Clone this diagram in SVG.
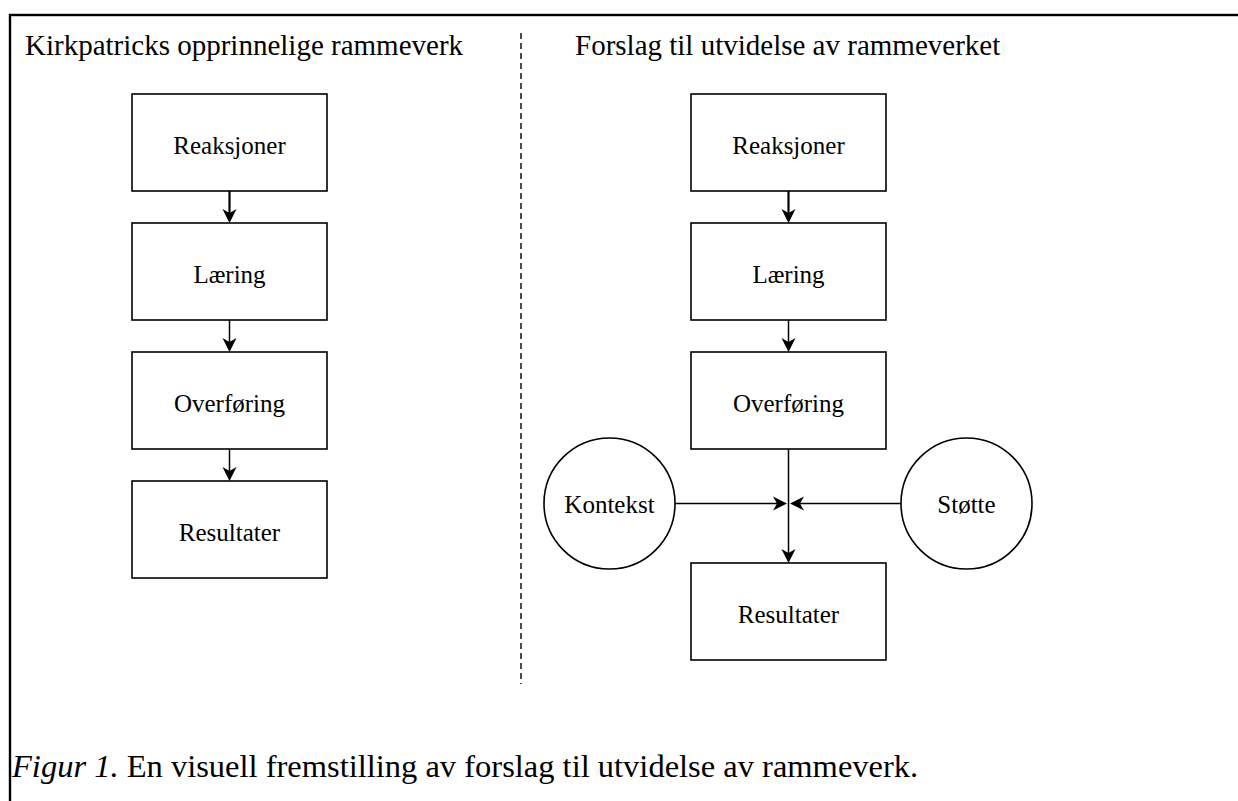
<svg xmlns="http://www.w3.org/2000/svg" width="1238" height="801" viewBox="0 0 1238 801">
<style>
text { font-family: "Liberation Serif", "Times New Roman", serif; fill: #000; }
.hdr { font-size: 29px; }
.lbl { font-size: 25px; text-anchor: middle; }
.cap { font-size: 32.5px; }
.box { fill: #fff; stroke: #000; stroke-width: 1.6; }
.circ { fill: #fff; stroke: #000; stroke-width: 1.6; }
.con { fill: none; stroke: #000; stroke-width: 1.5; }
.bold { stroke-width: 2.2; }
</style>
<defs>
<marker id="ah" markerUnits="userSpaceOnUse" markerWidth="20" markerHeight="20" refX="0" refY="0" viewBox="-6 -10 20 20" orient="auto" overflow="visible">
<path d="M10,0 L-4,-7 L0,0 L-4,7 Z" fill="#000"/>
</marker>
</defs>
<rect id="frame" x="10" y="15" width="1300" height="900" fill="none" stroke="#000" stroke-width="2.4"/>
<line id="divider" x1="521" y1="33" x2="521" y2="684" stroke="#000" stroke-width="1.4" stroke-dasharray="6,4"/>
<text id="hdr-left" class="hdr" x="25" y="55">Kirkpatricks opprinnelige rammeverk</text>
<text id="hdr-right" class="hdr" x="575" y="55">Forslag til utvidelse av rammeverket</text>

<g id="connectors">
<line class="con bold" x1="229.5" y1="191" x2="229.5" y2="213" marker-end="url(#ah)"/>
<line class="con" x1="229.5" y1="320" x2="229.5" y2="342" marker-end="url(#ah)"/>
<line class="con" x1="229.5" y1="449" x2="229.5" y2="471" marker-end="url(#ah)"/>
<line class="con bold" x1="788.5" y1="191" x2="788.5" y2="213" marker-end="url(#ah)"/>
<line class="con" x1="788.5" y1="320" x2="788.5" y2="342" marker-end="url(#ah)"/>
<line class="con" x1="788.5" y1="449" x2="788.5" y2="553" marker-end="url(#ah)"/>
<line class="con" x1="675" y1="503.5" x2="777" y2="503.5" marker-end="url(#ah)"/>
<line class="con" x1="901" y1="503.5" x2="800" y2="503.5" marker-end="url(#ah)"/>
</g>

<g id="l-reaksjoner"><rect class="box" x="132" y="94" width="195" height="97"/><text class="lbl" x="229.5" y="153.5">Reaksjoner</text></g>
<g id="l-laering"><rect class="box" x="132" y="223" width="195" height="97"/><text class="lbl" x="229.5" y="282.5">Læring</text></g>
<g id="l-overforing"><rect class="box" x="132" y="352" width="195" height="97"/><text class="lbl" x="229.5" y="411.5">Overføring</text></g>
<g id="l-resultater"><rect class="box" x="132" y="481" width="195" height="97"/><text class="lbl" x="229.5" y="540.5">Resultater</text></g>

<g id="r-reaksjoner"><rect class="box" x="691" y="94" width="195" height="97"/><text class="lbl" x="788.5" y="153.5">Reaksjoner</text></g>
<g id="r-laering"><rect class="box" x="691" y="223" width="195" height="97"/><text class="lbl" x="788.5" y="282.5">Læring</text></g>
<g id="r-overforing"><rect class="box" x="691" y="352" width="195" height="97"/><text class="lbl" x="788.5" y="411.5">Overføring</text></g>
<g id="r-resultater"><rect class="box" x="691" y="563" width="195" height="97"/><text class="lbl" x="788.5" y="622.5">Resultater</text></g>

<g id="kontekst"><circle class="circ" cx="609.5" cy="503.5" r="65.5"/><text class="lbl" x="609.5" y="512.5">Kontekst</text></g>
<g id="stotte"><circle class="circ" cx="966.5" cy="503.5" r="65.5"/><text class="lbl" x="966.5" y="512.5">Støtte</text></g>

<text id="caption" class="cap" x="12" y="777"><tspan font-style="italic">Figur 1.</tspan> En visuell fremstilling av forslag til utvidelse av rammeverk.</text>
</svg>
